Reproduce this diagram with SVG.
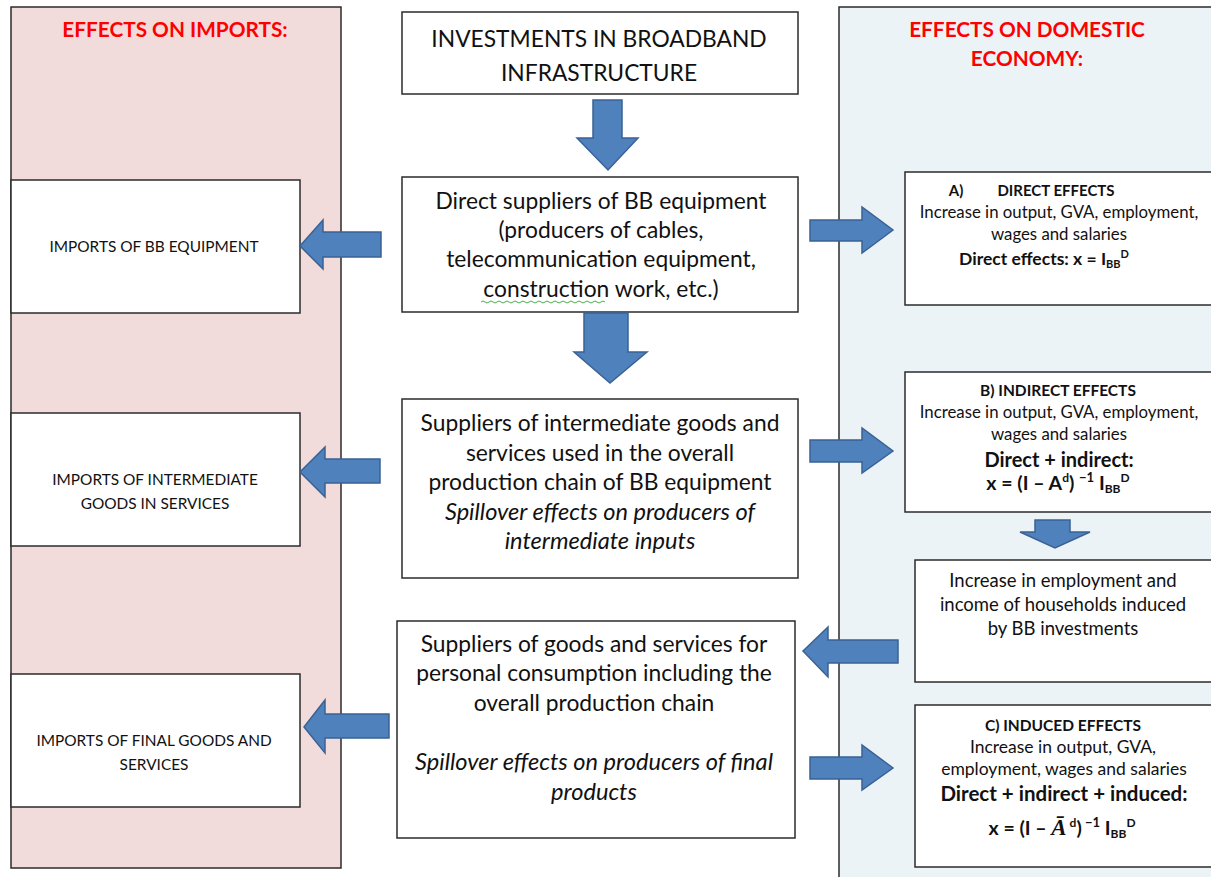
<svg xmlns="http://www.w3.org/2000/svg" width="1211" height="877" viewBox="0 0 1211 877">
<style>
.bx{fill:#fff;stroke:#2b2b2b;stroke-width:1.5}
.t{font-family:Lato,"Open Sans","Liberation Sans",sans-serif;fill:#111;text-anchor:middle}
.ttl{font-family:Lato,"Open Sans","Liberation Sans",sans-serif;fill:#ff0000;font-weight:bold;font-size:20.8px;text-anchor:middle}
.ar{fill:#4f81bd;stroke:#3a6294;stroke-width:1.5;stroke-linejoin:miter}
.sm{font-size:15.4px}
.rs{font-size:16.8px}
.lg{font-size:22.8px}
.li{font-size:23.6px}
.b{font-weight:bold}
.i{font-style:italic}
</style>
<rect width="1211" height="877" fill="#fff"/>
<g id="panel-imports">
<rect x="11" y="7" width="330" height="861" fill="#f2dcdb" stroke="#2b2b2b" stroke-width="1.5"/>
<text class="ttl" x="175" y="37">EFFECTS ON IMPORTS:</text>
</g>
<g id="panel-domestic">
<rect x="839" y="7" width="380" height="880" fill="#ebf3f7" stroke="#2b2b2b" stroke-width="1.5"/>
<text class="ttl" x="1027" y="37">EFFECTS ON DOMESTIC</text>
<text class="ttl" x="1027" y="66">ECONOMY:</text>
</g>
<g id="node-investments">
<rect class="bx" x="402" y="12" width="396" height="82"/>
<text class="t lg" x="599" y="47">INVESTMENTS IN BROADBAND</text>
<text class="t lg" x="599" y="81">INFRASTRUCTURE</text>
</g>
<g id="node-direct-suppliers">
<rect class="bx" x="402" y="177" width="396" height="135"/>
<text class="t lg" x="601" y="209">Direct suppliers of BB equipment</text>
<text class="t lg" x="601" y="238">(producers of cables,</text>
<text class="t lg" x="601" y="267">telecommunication equipment,</text>
<text class="t lg" x="601" y="297">construction work, etc.)</text>
<path d="M481 302 q2 -2 4 0 t4 0 t4 0 t4 0 t4 0 t4 0 t4 0 t4 0 t4 0 t4 0 t4 0 t4 0 t4 0 t4 0 t4 0 t4 0 t4 0 t4 0 t4 0 t4 0 t4 0 t4 0 t4 0 t4 0 t4 0 t4 0 t4 0 t4 0 t4 0 t4 0 t4 0" fill="none" stroke="#4cae4c" stroke-width="1"/>
</g>
<g id="node-intermediate-suppliers">
<rect class="bx" x="402" y="399" width="396" height="179"/>
<text class="t lg" x="600" y="431">Suppliers of intermediate goods and</text>
<text class="t lg" x="600" y="461">services used in the overall</text>
<text class="t lg" x="600" y="490">production chain of BB equipment</text>
<text class="t li i" x="600" y="520">Spillover effects on producers of</text>
<text class="t li i" x="600" y="549">intermediate inputs</text>
</g>
<g id="node-consumption-suppliers">
<rect class="bx" x="397" y="621" width="398" height="217"/>
<text class="t lg" x="594" y="652">Suppliers of goods and services for</text>
<text class="t lg" x="594" y="681">personal consumption including the</text>
<text class="t lg" x="594" y="711">overall production chain</text>
<text class="t li i" x="594" y="770">Spillover effects on producers of final</text>
<text class="t li i" x="594" y="800">products</text>
</g>
<g id="node-imports-bb">
<rect class="bx" x="11" y="180" width="289" height="133"/>
<text class="t sm" x="154" y="252">IMPORTS OF BB EQUIPMENT</text>
</g>
<g id="node-imports-intermediate">
<rect class="bx" x="11" y="413" width="289" height="133"/>
<text class="t sm" x="155" y="485">IMPORTS OF INTERMEDIATE</text>
<text class="t sm" x="155" y="509">GOODS IN SERVICES</text>
</g>
<g id="node-imports-final">
<rect class="bx" x="11" y="674" width="289" height="133"/>
<text class="t sm" x="154" y="746">IMPORTS OF FINAL GOODS AND</text>
<text class="t sm" x="154" y="770">SERVICES</text>
</g>
<g id="node-direct-effects">
<rect class="bx" x="905" y="172" width="320" height="133"/>
<text class="t b" font-size="15" y="196"><tspan x="956">A)</tspan><tspan x="1056">DIRECT EFFECTS</tspan></text>
<text class="t rs" x="1059" y="218">Increase in output, GVA, employment,</text>
<text class="t rs" x="1059" y="240">wages and salaries</text>
<text class="t b" font-size="17.5" x="1044" y="265">Direct effects: x = I<tspan font-size="11" dy="3">BB</tspan><tspan font-size="11" dy="-10">D</tspan></text>
</g>
<g id="node-indirect-effects">
<rect class="bx" x="905" y="372" width="320" height="140"/>
<text class="t b" font-size="15.5" x="1058" y="396">B) INDIRECT EFFECTS</text>
<text class="t rs" x="1059" y="418">Increase in output, GVA, employment,</text>
<text class="t rs" x="1059" y="440">wages and salaries</text>
<text class="t b" font-size="20" x="1059" y="467">Direct + indirect:</text>
<text class="t b" font-size="19.5" x="1058" y="490">x = (I – A<tspan font-size="12" dy="-8">d</tspan><tspan dy="8">) </tspan><tspan font-size="13" dy="-8">−1</tspan><tspan dy="8"> I</tspan><tspan font-size="12" dy="3">BB</tspan><tspan font-size="12" dy="-11">D</tspan></text>
</g>
<g id="node-households">
<rect class="bx" x="915" y="560" width="310" height="122"/>
<text class="t" font-size="18.5" x="1063" y="587">Increase in employment and</text>
<text class="t" font-size="18.5" x="1063" y="611">income of households induced</text>
<text class="t" font-size="18.5" x="1063" y="635">by BB investments</text>
</g>
<g id="node-induced-effects">
<rect class="bx" x="915" y="705" width="310" height="162"/>
<text class="t b" font-size="15.5" x="1063" y="731">C) INDUCED EFFECTS</text>
<text class="t" font-size="17.5" x="1063" y="753">Increase in output, GVA,</text>
<text class="t" font-size="17.5" x="1064" y="775">employment, wages and salaries</text>
<text class="t b" font-size="20.5" x="1064" y="801">Direct + indirect + induced:</text>
<text class="t b" font-size="19.5" x="1062" y="835">x = (I – <tspan font-family="'Liberation Serif',serif" font-style="italic" font-size="23">Ā</tspan><tspan font-size="12" dy="-8"> d</tspan><tspan dy="8">)</tspan><tspan font-size="13" dy="-8"> −1</tspan><tspan dy="8"> I</tspan><tspan font-size="12" dy="3">BB</tspan><tspan font-size="12" dy="-11">D</tspan></text>
</g>
<g id="connectors">
<path class="ar" d="M593 100 H622 V138 H638 L608 170 L577 138 H593 Z"/>
<path class="ar" d="M584 313 H628 V352 H647 L610 383 L574 352 H584 Z"/>
<path class="ar" d="M381 232 V257 H323 V269 L300 246 L323 220 V232 Z"/>
<path class="ar" d="M380 459 V483 H325 V497 L300 472 L325 447 V459 Z"/>
<path class="ar" d="M389 714 V738 H325 V753 L304 727 L325 700 V714 Z"/>
<path class="ar" d="M810 220 H862 V207 L893 230 L862 253 V241 H810 Z"/>
<path class="ar" d="M810 440 H862 V428 L893 451 L862 473 V462 H810 Z"/>
<path class="ar" d="M810 757 H862 V745 L893 768 L862 790 V779 H810 Z"/>
<path class="ar" d="M898 640 V663 H828 V677 L803 651 L828 627 V640 Z"/>
<path class="ar" d="M1035 520 H1070 V532 H1090 L1055 548 L1020 532 H1035 Z"/>
</g>
</svg>
